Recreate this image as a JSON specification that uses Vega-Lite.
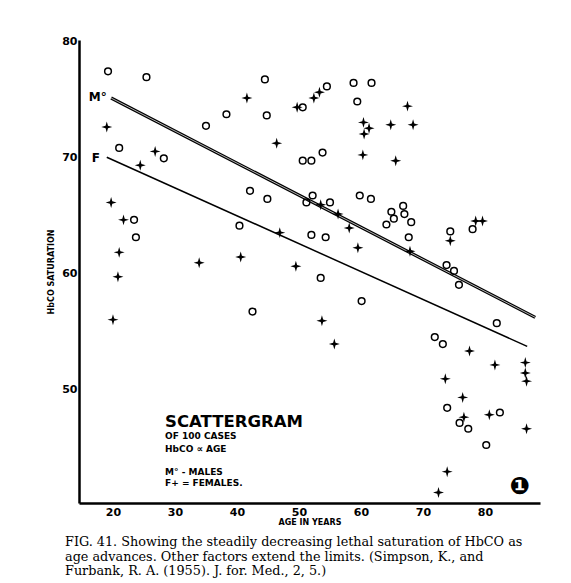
{
  "$schema": "https://vega.github.io/schema/vega-lite/v6.json",
  "width": 461,
  "height": 463,
  "autosize": {"type": "none"},
  "padding": {"left": 79, "top": 40, "right": 31, "bottom": 80},
  "background": "white",
  "config": {"view": {"stroke": null}, "font": "DejaVu Sans"},
  "title": {
    "text": [
      "FIG. 41.  Showing the steadily decreasing lethal saturation of HbCO as",
      "\u2002age advances.  Other factors extend the limits.  (Simpson, K., and",
      "\u2009Furbank, R. A. (1955).  J. for. Med., 2, 5.)"
    ],
    "orient": "bottom",
    "anchor": "start",
    "frame": "group",
    "font": "DejaVu Serif",
    "fontSize": 12.8,
    "fontWeight": "normal",
    "color": "black",
    "lineHeight": 14.5,
    "offset": 10,
    "dx": -14
  },
  "datasets": {
    "points": [
      {"age": 19.2, "hbco": 77.4, "sex": "M"},
      {"age": 25.4, "hbco": 76.9, "sex": "M"},
      {"age": 44.5, "hbco": 76.7, "sex": "M"},
      {"age": 38.3, "hbco": 73.7, "sex": "M"},
      {"age": 44.8, "hbco": 73.6, "sex": "M"},
      {"age": 35.0, "hbco": 72.7, "sex": "M"},
      {"age": 21.0, "hbco": 70.8, "sex": "M"},
      {"age": 28.2, "hbco": 69.9, "sex": "M"},
      {"age": 42.1, "hbco": 67.1, "sex": "M"},
      {"age": 44.9, "hbco": 66.4, "sex": "M"},
      {"age": 23.4, "hbco": 64.6, "sex": "M"},
      {"age": 40.4, "hbco": 64.1, "sex": "M"},
      {"age": 23.7, "hbco": 63.1, "sex": "M"},
      {"age": 42.5, "hbco": 56.7, "sex": "M"},
      {"age": 50.6, "hbco": 74.3, "sex": "M"},
      {"age": 54.5, "hbco": 76.1, "sex": "M"},
      {"age": 58.8, "hbco": 76.4, "sex": "M"},
      {"age": 61.7, "hbco": 76.4, "sex": "M"},
      {"age": 59.4, "hbco": 74.8, "sex": "M"},
      {"age": 50.6, "hbco": 69.7, "sex": "M"},
      {"age": 52.0, "hbco": 69.7, "sex": "M"},
      {"age": 53.8, "hbco": 70.4, "sex": "M"},
      {"age": 52.2, "hbco": 66.7, "sex": "M"},
      {"age": 51.2, "hbco": 66.1, "sex": "M"},
      {"age": 55.0, "hbco": 66.1, "sex": "M"},
      {"age": 59.8, "hbco": 66.7, "sex": "M"},
      {"age": 61.6, "hbco": 66.4, "sex": "M"},
      {"age": 66.8, "hbco": 65.8, "sex": "M"},
      {"age": 64.9, "hbco": 65.3, "sex": "M"},
      {"age": 67.0, "hbco": 65.1, "sex": "M"},
      {"age": 65.3, "hbco": 64.7, "sex": "M"},
      {"age": 64.1, "hbco": 64.2, "sex": "M"},
      {"age": 68.1, "hbco": 64.4, "sex": "M"},
      {"age": 67.7, "hbco": 63.1, "sex": "M"},
      {"age": 52.0, "hbco": 63.3, "sex": "M"},
      {"age": 54.3, "hbco": 63.1, "sex": "M"},
      {"age": 74.4, "hbco": 63.6, "sex": "M"},
      {"age": 78.0, "hbco": 63.8, "sex": "M"},
      {"age": 73.8, "hbco": 60.7, "sex": "M"},
      {"age": 75.0, "hbco": 60.2, "sex": "M"},
      {"age": 75.8, "hbco": 59.0, "sex": "M"},
      {"age": 53.5, "hbco": 59.6, "sex": "M"},
      {"age": 60.1, "hbco": 57.6, "sex": "M"},
      {"age": 81.9, "hbco": 55.7, "sex": "M"},
      {"age": 71.9, "hbco": 54.5, "sex": "M"},
      {"age": 73.2, "hbco": 53.9, "sex": "M"},
      {"age": 73.9, "hbco": 48.4, "sex": "M"},
      {"age": 75.9, "hbco": 47.1, "sex": "M"},
      {"age": 77.3, "hbco": 46.6, "sex": "M"},
      {"age": 82.4, "hbco": 48.0, "sex": "M"},
      {"age": 80.2, "hbco": 45.2, "sex": "M"},
      {"age": 41.6, "hbco": 75.1, "sex": "F"},
      {"age": 49.7, "hbco": 74.3, "sex": "F"},
      {"age": 19.0, "hbco": 72.6, "sex": "F"},
      {"age": 46.4, "hbco": 71.2, "sex": "F"},
      {"age": 26.8, "hbco": 70.5, "sex": "F"},
      {"age": 24.4, "hbco": 69.3, "sex": "F"},
      {"age": 19.7, "hbco": 66.1, "sex": "F"},
      {"age": 21.7, "hbco": 64.6, "sex": "F"},
      {"age": 46.9, "hbco": 63.5, "sex": "F"},
      {"age": 21.0, "hbco": 61.8, "sex": "F"},
      {"age": 33.9, "hbco": 60.9, "sex": "F"},
      {"age": 40.6, "hbco": 61.4, "sex": "F"},
      {"age": 49.5, "hbco": 60.6, "sex": "F"},
      {"age": 20.8, "hbco": 59.7, "sex": "F"},
      {"age": 20.0, "hbco": 56.0, "sex": "F"},
      {"age": 52.4, "hbco": 75.1, "sex": "F"},
      {"age": 53.3, "hbco": 75.6, "sex": "F"},
      {"age": 67.5, "hbco": 74.4, "sex": "F"},
      {"age": 60.4, "hbco": 73.0, "sex": "F"},
      {"age": 61.3, "hbco": 72.5, "sex": "F"},
      {"age": 60.5, "hbco": 72.0, "sex": "F"},
      {"age": 64.8, "hbco": 72.8, "sex": "F"},
      {"age": 68.4, "hbco": 72.8, "sex": "F"},
      {"age": 60.3, "hbco": 70.2, "sex": "F"},
      {"age": 65.6, "hbco": 69.7, "sex": "F"},
      {"age": 53.5, "hbco": 65.9, "sex": "F"},
      {"age": 56.3, "hbco": 65.1, "sex": "F"},
      {"age": 58.1, "hbco": 63.9, "sex": "F"},
      {"age": 59.5, "hbco": 62.2, "sex": "F"},
      {"age": 67.9, "hbco": 61.9, "sex": "F"},
      {"age": 74.4, "hbco": 62.8, "sex": "F"},
      {"age": 78.5, "hbco": 64.5, "sex": "F"},
      {"age": 79.6, "hbco": 64.5, "sex": "F"},
      {"age": 53.7, "hbco": 55.9, "sex": "F"},
      {"age": 55.7, "hbco": 53.9, "sex": "F"},
      {"age": 77.5, "hbco": 53.3, "sex": "F"},
      {"age": 81.6, "hbco": 52.1, "sex": "F"},
      {"age": 86.5, "hbco": 52.3, "sex": "F"},
      {"age": 86.5, "hbco": 51.4, "sex": "F"},
      {"age": 86.7, "hbco": 50.7, "sex": "F"},
      {"age": 73.6, "hbco": 50.9, "sex": "F"},
      {"age": 76.4, "hbco": 49.3, "sex": "F"},
      {"age": 76.6, "hbco": 47.6, "sex": "F"},
      {"age": 80.7, "hbco": 47.8, "sex": "F"},
      {"age": 86.7, "hbco": 46.6, "sex": "F"},
      {"age": 73.9, "hbco": 42.9, "sex": "F"},
      {"age": 72.5, "hbco": 41.1, "sex": "F"}
    ],
    "lines": [
      {"sex": "M", "age": 19.7, "hbco": 75.1},
      {"sex": "M", "age": 88.1, "hbco": 56.2},
      {"sex": "F", "age": 19.0, "hbco": 70.0},
      {"sex": "F", "age": 86.8, "hbco": 53.7}
    ],
    "notes": [
      {"role": "big", "age": 28.4, "hbco": 47.15, "label": "SCATTERGRAM"},
      {"role": "small", "age": 28.4, "hbco": 46.0, "label": "OF 100 CASES"},
      {"role": "small", "age": 28.4, "hbco": 44.89, "label": "HbCO ∝ AGE"},
      {"role": "small", "age": 28.4, "hbco": 42.87, "label": "M° - MALES"},
      {"role": "small", "age": 28.4, "hbco": 41.95, "label": "F+ = FEMALES."},
      {"role": "line", "age": 19.0, "hbco": 75.15, "label": "M°"},
      {"role": "line", "age": 17.9, "hbco": 69.9, "label": "F"},
      {"role": "icon", "age": 85.6, "hbco": 41.6, "label": "❶"}
    ]
  },
  "layer": [
    {
      "data": {"name": "lines"},
      "mark": {"type": "line", "color": "black", "strokeWidth": 1.5},
      "transform": [{"filter": "datum.sex === 'F'"}],
      "encoding": {
        "x": {
          "field": "age", "type": "quantitative",
          "scale": {"domain": [14.52, 88.87], "nice": false, "zero": false},
          "axis": {
            "values": [20, 30, 40, 50, 60, 70, 80],
            "ticks": false, "grid": false,
            "domainColor": "black", "domainWidth": 2.5,
            "labelFont": "DejaVu Sans", "labelFontSize": 11, "labelFontWeight": "bold",
            "labelColor": "black", "labelPadding": 3,
            "title": "AGE IN YEARS", "titleFont": "DejaVu Sans", "titleFontSize": 8,
            "titleFontWeight": "bold", "titleColor": "black", "titlePadding": 1
          }
        },
        "y": {
          "field": "hbco", "type": "quantitative",
          "scale": {"domain": [40.2, 80.1], "nice": false, "zero": false},
          "axis": {
            "values": [50, 60, 70, 80],
            "ticks": false, "grid": false,
            "domainColor": "black", "domainWidth": 2.5,
            "labelFont": "DejaVu Sans", "labelFontSize": 11, "labelFontWeight": "bold",
            "labelColor": "black", "labelPadding": 2,
            "title": "HbCO SATURATION", "titleFont": "DejaVu Sans", "titleFontSize": 8,
            "titleFontWeight": "bold", "titleColor": "black", "titlePadding": 6
          }
        },
        "detail": {"field": "sex"}
      }
    },
    {
      "data": {"name": "lines"},
      "mark": {"type": "line", "color": "black", "strokeWidth": 3.2},
      "transform": [{"filter": "datum.sex === 'M'"}],
      "encoding": {
        "x": {"field": "age", "type": "quantitative"},
        "y": {"field": "hbco", "type": "quantitative"}
      }
    },
    {
      "data": {"name": "lines"},
      "mark": {"type": "line", "color": "white", "strokeWidth": 0.7},
      "transform": [{"filter": "datum.sex === 'M'"}],
      "encoding": {
        "x": {"field": "age", "type": "quantitative"},
        "y": {"field": "hbco", "type": "quantitative"}
      }
    },
    {
      "data": {"name": "points"},
      "transform": [{"filter": "datum.sex === 'M'"}],
      "mark": {"type": "point", "shape": "circle", "filled": false, "stroke": "black", "strokeWidth": 1.5, "size": 45, "opacity": 1},
      "encoding": {
        "x": {"field": "age", "type": "quantitative"},
        "y": {"field": "hbco", "type": "quantitative"}
      }
    },
    {
      "data": {"name": "points"},
      "transform": [{"filter": "datum.sex === 'F'"}],
      "mark": {"type": "point", "shape": "M0,-1L0.22,-0.22L1,0L0.22,0.22L0,1L-0.22,0.22L-1,0L-0.22,-0.22Z", "filled": true, "fill": "black", "strokeWidth": 0, "size": 120, "opacity": 1},
      "encoding": {
        "x": {"field": "age", "type": "quantitative"},
        "y": {"field": "hbco", "type": "quantitative"}
      }
    },
    {
      "data": {"name": "notes"},
      "transform": [{"filter": "datum.role === 'big'"}],
      "mark": {"type": "text", "align": "left", "baseline": "middle", "font": "DejaVu Sans", "fontSize": 16.5, "fontWeight": "bold", "color": "black"},
      "encoding": {
        "x": {"field": "age", "type": "quantitative"},
        "y": {"field": "hbco", "type": "quantitative"},
        "text": {"field": "label"}
      }
    },
    {
      "data": {"name": "notes"},
      "transform": [{"filter": "datum.role === 'small'"}],
      "mark": {"type": "text", "align": "left", "baseline": "middle", "font": "DejaVu Sans", "fontSize": 9, "fontWeight": "bold", "color": "black"},
      "encoding": {
        "x": {"field": "age", "type": "quantitative"},
        "y": {"field": "hbco", "type": "quantitative"},
        "text": {"field": "label"}
      }
    },
    {
      "data": {"name": "notes"},
      "transform": [{"filter": "datum.role === 'line'"}],
      "mark": {"type": "text", "align": "right", "baseline": "middle", "font": "DejaVu Sans", "fontSize": 12, "fontWeight": "bold", "color": "black"},
      "encoding": {
        "x": {"field": "age", "type": "quantitative"},
        "y": {"field": "hbco", "type": "quantitative"},
        "text": {"field": "label"}
      }
    },
    {
      "data": {"name": "notes"},
      "transform": [{"filter": "datum.role === 'icon'"}],
      "mark": {"type": "text", "align": "center", "baseline": "middle", "font": "DejaVu Sans", "fontSize": 24, "fontWeight": "bold", "color": "black"},
      "encoding": {
        "x": {"field": "age", "type": "quantitative"},
        "y": {"field": "hbco", "type": "quantitative"},
        "text": {"field": "label"}
      }
    }
  ]
}
